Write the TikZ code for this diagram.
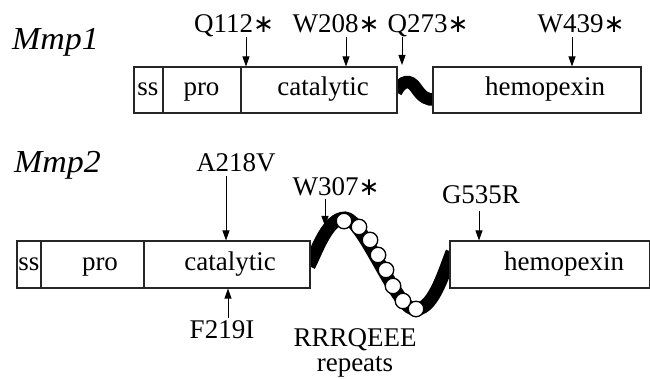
\documentclass[tikz,border=0pt]{standalone}
\usepackage{fontspec}
\setmainfont{Liberation Serif}
\newfontfamily\symfont{DejaVu Sans}[FakeBold=0]
\usetikzlibrary{arrows.meta}
\newcommand\mstar{{\symfont\fontsize{25}{25}\selectfont ∗}}
\begin{document}
\begin{tikzpicture}[x=1pt,y=-1pt,
  dom/.style={draw=black!85, line width=1.1pt, rectangle, inner sep=0pt, fill=white},
  lbl/.style={font=\fontsize{27}{27}\selectfont, inner sep=0pt, anchor=base},
  gname/.style={font=\fontsize{32}{32}\selectfont\itshape, inner sep=0pt, anchor=base west},
  mut/.style={line width=0.9pt, -{Triangle[length=10pt,width=7pt]}},
  band/.style={line width=13pt, line cap=butt},
  bead/.style={circle, draw=black, line width=1.3pt, fill=white, minimum size=15.5pt, inner sep=0pt},
]
\useasboundingbox (0,0) rectangle (650,379);

% ---------------- Mmp1 ----------------
\node[gname] (g1) at (12,50) {\scalebox{1.06}[1]{Mmp1}};

% linker wave (behind boxes)
\begin{scope}
  \clip (397,60) rectangle (433,120);
  \draw[line width=12.5pt, line cap=butt] (396,92) .. controls (402,80) and (410,79) .. (416,88) .. controls (422,97) and (428,101) .. (435,99);
\end{scope}

\node[dom, minimum width=29pt,  minimum height=46pt] (ss1)  at (148.5,90) {};
\node[dom, minimum width=78pt,  minimum height=46pt] (pro1) at (202,90)   {};
\node[dom, minimum width=156pt, minimum height=46pt] (cat1) at (319,90)   {};
\node[dom, minimum width=208pt, minimum height=46pt] (hem1) at (537,90)   {};

\node[lbl] (tss1)  at (148,96) {ss};
\node[lbl] (tpro1) at (201.5,96) {pro};
\node[lbl] (tcat1) at (323,96) {catalytic};
\node[lbl] (them1) at (545,96) {hemopexin};

\node[lbl] (q112) at (234,33) {Q112\mstar};
\node[lbl] (w208) at (336,33) {W208\mstar};
\node[lbl] (q273) at (428,33) {Q273\mstar};
\node[lbl] (w439) at (581,33) {W439\mstar};

\coordinate (aq112) at (246,37);
\coordinate (aw208) at (346,37);
\coordinate (aq273) at (402,37);
\coordinate (aw439) at (572,37);
\coordinate (eq273) at (402,65);

\draw[mut] (aq112) -- (aq112 |- cat1.north);
\draw[mut] (aw208) -- (aw208 |- cat1.north);
\draw[mut] (aq273) -- (eq273);
\draw[mut] (aw439) -- (aw439 |- hem1.north);

% ---------------- Mmp2 ----------------
\node[gname] (g2) at (14,173) {\scalebox{1.06}[1]{Mmp2}};

\begin{scope}
  \clip (310,200) rectangle (450,330);
  \draw[band] (309,266) .. controls (318,248) and (328,218) .. (345,218)
               .. controls (362,218) and (395,305) .. (413,309)
               .. controls (432,313) and (443,275) .. (452,252);
\end{scope}

\node[dom, minimum width=24pt,    minimum height=47pt] (ss2)  at (29,264.5)     {};
\node[dom, minimum width=103pt,   minimum height=47pt] (pro2) at (92.5,264.5)   {};
\node[dom, minimum width=166pt,   minimum height=47pt] (cat2) at (227,264.5)    {};
\node[dom, minimum width=199.5pt, minimum height=47pt] (hem2) at (549.75,264.5) {};

\node[lbl] (tss2)  at (29,270)  {ss};
\node[lbl] (tpro2) at (100,270) {pro};
\node[lbl] (tcat2) at (230,270) {catalytic};
\node[lbl] (them2) at (564,270) {hemopexin};

\foreach \px/\py [count=\i] in {344/221,359/227,370/240,378/255,386/270,393/286,403/301,416/309}
  \node[bead] (r\i) at (\px,\py) {};

\node[lbl] (a218v) at (236,172) {A218V};
\node[lbl] (w307)  at (336,196) {W307\mstar};
\node[lbl] (g535r) at (481,204) {G535R};
\node[lbl] (f219i) at (222,338) {F219I};
\node[lbl] (rrr)   at (355,346) {RRRQEEE};
\node[lbl] (rep)   at (355,371) {repeats};

\coordinate (aa218) at (226,176);
\coordinate (aw307) at (325,199);
\coordinate (ew307) at (325,226);
\coordinate (ag535) at (479,211);
\coordinate (af219) at (228,318);

\draw[mut] (aa218) -- (aa218 |- cat2.north);
\draw[mut] (aw307) -- (ew307);
\draw[mut] (ag535) -- (ag535 |- hem2.north);
\draw[mut] (af219) -- (af219 |- cat2.south);
\end{tikzpicture}
\end{document}
